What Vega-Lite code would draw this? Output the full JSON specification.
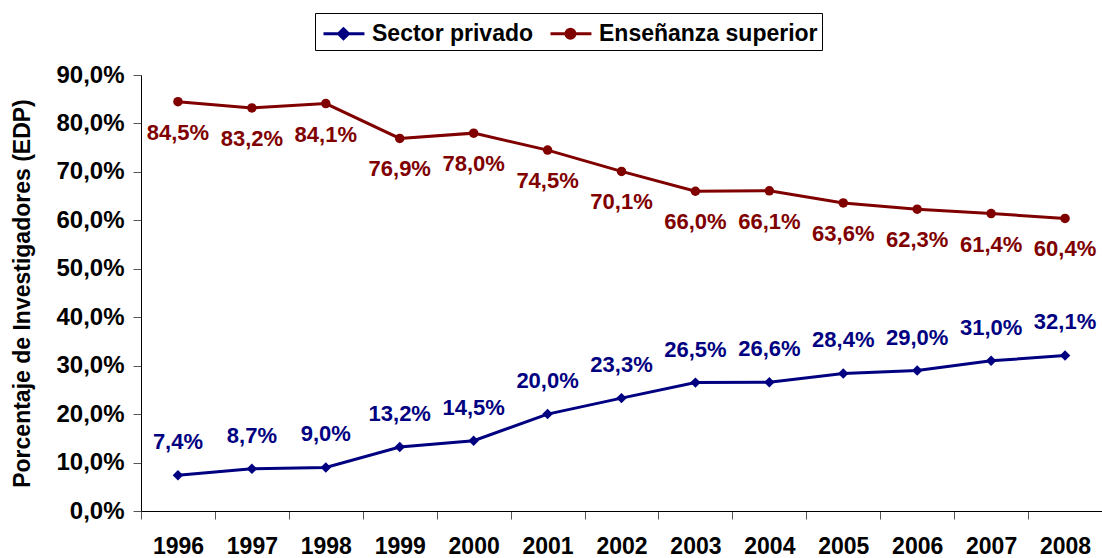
{
  "$schema": "https://vega.github.io/schema/vega-lite/v6.json",
  "autosize": "none",
  "width": 961,
  "height": 436,
  "padding": {"left": 141, "top": 75, "right": 0, "bottom": 47},
  "background": "white",
  "config": {
    "locale": {"number": {"decimal": ",", "thousands": ".", "grouping": [3], "currency": ["", " €"]}},
    "view": {"stroke": null},
    "font": "Liberation Sans",
    "legend": {
      "title": null, "orient": "none", "direction": "horizontal",
      "legendX": 174, "legendY": -62,
      "strokeColor": "black", "padding": 4,
      "symbolSize": 900, "symbolStrokeWidth": 3,
      "labelFont": "Liberation Sans", "labelFontWeight": "bold", "labelFontSize": 23, "labelColor": "black",
      "labelOffset": 20, "columnPadding": 10, "labelLimit": 400
    }
  },
  "data": {
    "values": [
      {"year": "1996", "series": "Sector privado", "v": 0.074},
      {"year": "1997", "series": "Sector privado", "v": 0.087},
      {"year": "1998", "series": "Sector privado", "v": 0.090},
      {"year": "1999", "series": "Sector privado", "v": 0.132},
      {"year": "2000", "series": "Sector privado", "v": 0.145},
      {"year": "2001", "series": "Sector privado", "v": 0.200},
      {"year": "2002", "series": "Sector privado", "v": 0.233},
      {"year": "2003", "series": "Sector privado", "v": 0.265},
      {"year": "2004", "series": "Sector privado", "v": 0.266},
      {"year": "2005", "series": "Sector privado", "v": 0.284},
      {"year": "2006", "series": "Sector privado", "v": 0.290},
      {"year": "2007", "series": "Sector privado", "v": 0.310},
      {"year": "2008", "series": "Sector privado", "v": 0.321},
      {"year": "1996", "series": "Enseñanza superior", "v": 0.845},
      {"year": "1997", "series": "Enseñanza superior", "v": 0.832},
      {"year": "1998", "series": "Enseñanza superior", "v": 0.841},
      {"year": "1999", "series": "Enseñanza superior", "v": 0.769},
      {"year": "2000", "series": "Enseñanza superior", "v": 0.780},
      {"year": "2001", "series": "Enseñanza superior", "v": 0.745},
      {"year": "2002", "series": "Enseñanza superior", "v": 0.701},
      {"year": "2003", "series": "Enseñanza superior", "v": 0.660},
      {"year": "2004", "series": "Enseñanza superior", "v": 0.661},
      {"year": "2005", "series": "Enseñanza superior", "v": 0.636},
      {"year": "2006", "series": "Enseñanza superior", "v": 0.623},
      {"year": "2007", "series": "Enseñanza superior", "v": 0.614},
      {"year": "2008", "series": "Enseñanza superior", "v": 0.604}
    ]
  },
  "encoding": {
    "x": {
      "field": "year", "type": "ordinal",
      "scale": {"type": "band", "paddingInner": 0, "paddingOuter": 0},
      "axis": {
        "title": null, "labelAngle": 0, "tickBand": "extent",
        "labelFont": "Liberation Sans", "labelFontWeight": "bold", "labelFontSize": 23, "labelColor": "black",
        "domainColor": "black", "domainWidth": 1, "tickColor": "#555", "tickSize": 8, "tickWidth": 1,
        "labelPadding": 16, "grid": false
      }
    },
    "y": {
      "field": "v", "type": "quantitative",
      "scale": {"domain": [0, 0.9], "nice": false, "zero": true},
      "axis": {
        "title": "Porcentaje de Investigadores (EDP)",
        "titleFont": "Liberation Sans", "titleFontWeight": "bold", "titleFontSize": 23, "titleColor": "black",
        "titlePadding": 21,
        "values": [0, 0.1, 0.2, 0.3, 0.4, 0.5, 0.6, 0.7, 0.8, 0.9],
        "format": ".1%",
        "labelFont": "Liberation Sans", "labelFontWeight": "bold", "labelFontSize": 24, "labelColor": "black",
        "domainColor": "black", "domainWidth": 1, "tickColor": "#555", "tickSize": 8, "tickWidth": 1,
        "labelPadding": 9, "grid": false
      }
    }
  },
  "layer": [
    {
      "transform": [{"filter": "datum.series == 'Sector privado'"}],
      "mark": {"type": "line", "strokeWidth": 3, "color": "#000080"}
    },
    {
      "transform": [{"filter": "datum.series == 'Enseñanza superior'"}],
      "mark": {"type": "line", "strokeWidth": 3, "color": "#800000"}
    },
    {
      "transform": [{"filter": "datum.series == 'Sector privado'"}],
      "mark": {"type": "point", "shape": "diamond", "filled": true, "opacity": 1, "size": 110, "color": "#000080"}
    },
    {
      "transform": [{"filter": "datum.series == 'Enseñanza superior'"}],
      "mark": {"type": "point", "shape": "circle", "filled": true, "opacity": 1, "size": 90, "color": "#800000"}
    },
    {
      "transform": [{"filter": "datum.series == 'Enseñanza superior'"}],
      "mark": {"type": "text", "dy": 31, "font": "Liberation Sans", "fontWeight": "bold", "fontSize": 22, "color": "#800000"},
      "encoding": {"text": {"field": "v", "type": "quantitative", "format": ".1%"}}
    },
    {
      "transform": [{"filter": "datum.series == 'Sector privado'"}],
      "mark": {"type": "text", "dy": -33, "font": "Liberation Sans", "fontWeight": "bold", "fontSize": 22, "color": "#000080"},
      "encoding": {"text": {"field": "v", "type": "quantitative", "format": ".1%"}}
    },
    {
      "transform": [{"filter": "false"}],
      "mark": {"type": "point", "filled": true, "opacity": 1, "strokeWidth": 3, "size": 900},
      "encoding": {
        "color": {
          "field": "series", "type": "nominal",
          "scale": {"domain": ["Sector privado", "Enseñanza superior"], "range": ["#000080", "#800000"]}
        },
        "stroke": {
          "field": "series", "type": "nominal",
          "scale": {"domain": ["Sector privado", "Enseñanza superior"], "range": ["#000080", "#800000"]}
        },
        "shape": {
          "field": "series", "type": "nominal",
          "scale": {"domain": ["Sector privado", "Enseñanza superior"], "range": [
            "M-0.8,0L1.93,0M0.53,-0.33L0.87,0L0.53,0.33L0.2,0Z",
            "M-0.8,0L1.93,0M0.83,0A0.3,0.3,0,1,1,0.23,0A0.3,0.3,0,1,1,0.83,0Z"
          ]}
        }
      }
    }
  ]
}
